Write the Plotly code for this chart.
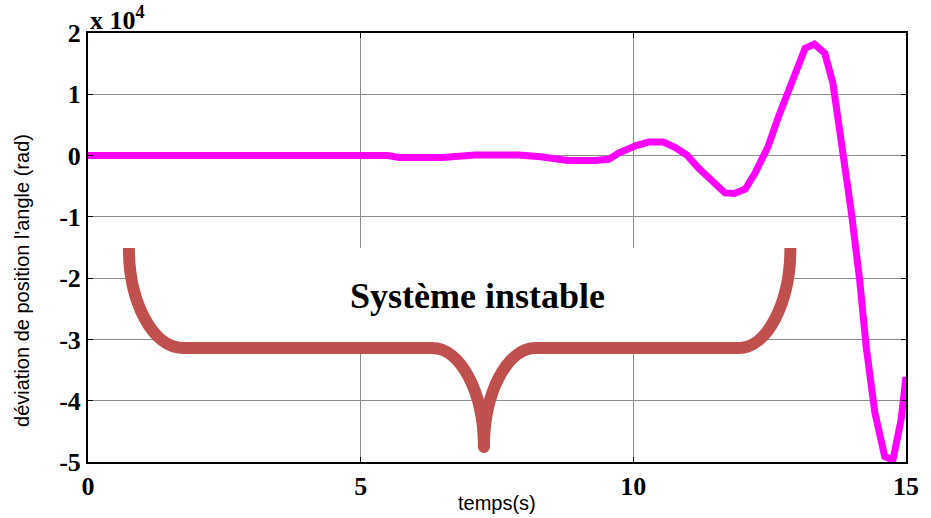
import plotly.graph_objects as go

# Angular position deviation over time (unstable response)
time_s = [0.0, 1.0, 2.0, 3.0, 4.0, 5.0, 5.5, 5.7, 6.5, 7.1, 7.9, 8.3, 8.8, 9.3,
          9.55, 9.73, 10.04, 10.28, 10.55, 10.77, 10.98, 11.19, 11.43, 11.68,
          11.85, 12.05, 12.23, 12.47, 12.66, 12.84, 13.15, 13.32, 13.51, 13.66,
          13.82, 14.0, 14.15, 14.27, 14.43, 14.61, 14.76, 14.91, 15.0]
deviation = [0, 0, 0, 0, 0, 0, 0, -300, -300, 100, 100, -200, -800, -800,
             -600, 400, 1600, 2200, 2200, 1300, 100, -2000, -4100, -6100,
             -6200, -5500, -2900, 1450, 6300, 10700, 17500, 18200, 16700, 11800,
             2000, -9400, -20300, -31200, -42000, -49100, -49700, -43100, -36100]

x_ticks = [0, 5, 10, 15]
x_tick_labels = ["0", "5", "10", "15"]
y_ticks = [-50000, -40000, -30000, -20000, -10000, 0, 10000, 20000]
y_tick_labels = ["-5", "-4", "-3", "-2", "-1", "0", "1", "2"]

# Curly-brace annotation geometry (data units)
brace_left, brace_left_turn = 0.75, 1.74
brace_mid_left, brace_tip, brace_mid_right = 6.31, 7.26, 8.21
brace_right_turn, brace_right = 11.93, 12.88
brace_top, brace_bar, brace_bottom = -15080, -31400, -47550
k = 0.55

def seg_left():
    return (f"M{brace_left},{brace_top} "
            f"C{brace_left},{brace_top + k * (brace_bar - brace_top)} "
            f"{brace_left_turn - k * (brace_left_turn - brace_left)},{brace_bar} "
            f"{brace_left_turn},{brace_bar} "
            f"L{brace_mid_left},{brace_bar} "
            f"C{brace_mid_left + k * (brace_tip - brace_mid_left)},{brace_bar} "
            f"{brace_tip},{brace_bottom + k * (brace_bar - brace_bottom)} "
            f"{brace_tip},{brace_bottom} ")

def seg_right(start=True):
    s = f"M{brace_tip},{brace_bottom} " if start else ""
    return (s +
            f"C{brace_tip},{brace_bottom + k * (brace_bar - brace_bottom)} "
            f"{brace_mid_right - k * (brace_mid_right - brace_tip)},{brace_bar} "
            f"{brace_mid_right},{brace_bar} "
            f"L{brace_right_turn},{brace_bar} "
            f"C{brace_right_turn + k * (brace_right - brace_right_turn)},{brace_bar} "
            f"{brace_right},{brace_top + k * (brace_bar - brace_top)} "
            f"{brace_right},{brace_top} ")

brace_color = "#C0504D"

fig = go.Figure()
fig.add_trace(go.Scatter(
    x=time_s, y=deviation, mode="lines",
    line=dict(color="#FF00FF", width=7), showlegend=False,
))

shapes = [
    # white backing inside the brace
    dict(type="path", xref="x", yref="y",
         path=seg_left() + seg_right(start=False) + "Z",
         fillcolor="white", line=dict(width=0), layer="above"),
    dict(type="path", xref="x", yref="y", path=seg_left(),
         line=dict(color=brace_color, width=12), layer="above"),
    dict(type="path", xref="x", yref="y", path=seg_right(),
         line=dict(color=brace_color, width=12), layer="above"),
    dict(type="circle", xref="x", yref="y",
         x0=brace_tip - 0.11, x1=brace_tip + 0.11,
         y0=brace_bottom - 980, y1=brace_bottom + 980,
         fillcolor=brace_color, line=dict(width=0), layer="above"),
]

tick_font = dict(family="Liberation Serif", size=26, color="black")

fig.update_layout(
    width=931, height=518,
    margin=dict(l=88, r=23, t=33, b=56),
    paper_bgcolor="white", plot_bgcolor="white",
    shapes=shapes,
    xaxis=dict(
        range=[0, 15], tickvals=x_ticks,
        ticktext=[f"<b>{t}</b>" for t in x_tick_labels],
        showgrid=True, gridcolor="#8c8c8c", gridwidth=1,
        showline=True, linecolor="black", linewidth=2, mirror="ticks",
        ticks="inside", ticklen=5, tickcolor="black",
        tickfont=tick_font, zeroline=False,
    ),
    yaxis=dict(
        range=[-50000, 20000], tickvals=y_ticks,
        ticktext=[f"<b>{t}</b>" for t in y_tick_labels],
        showgrid=True, gridcolor="#8c8c8c", gridwidth=1,
        showline=True, linecolor="black", linewidth=2, mirror="ticks",
        ticks="inside", ticklen=5, tickcolor="black",
        tickfont=tick_font, zeroline=False,
    ),
    annotations=[
        dict(text="<b>x 10<sup>4</sup></b>", xref="paper", yref="paper", x=0, y=1,
             xanchor="left", yanchor="bottom", showarrow=False, yshift=-4,
             font=dict(family="Liberation Serif", size=26, color="black")),
        dict(text="temps(s)", xref="paper", yref="paper", x=0.5, y=0,
             xanchor="center", yanchor="top", showarrow=False, yshift=-28,
             font=dict(family="Liberation Sans", size=20, color="black")),
        dict(text="déviation de position l'angle (rad)", xref="paper", yref="paper",
             x=0, y=0.422, xanchor="center", yanchor="middle", textangle=-90,
             showarrow=False, xshift=-66,
             font=dict(family="Liberation Sans", size=20, color="black")),
        dict(text="<b>Système instable</b>", xref="x", yref="y", x=7.14, y=-22900,
             xanchor="center", yanchor="middle", showarrow=False,
             font=dict(family="Liberation Serif", size=36, color="black")),
    ],
)

fig.write_html("out.html")
